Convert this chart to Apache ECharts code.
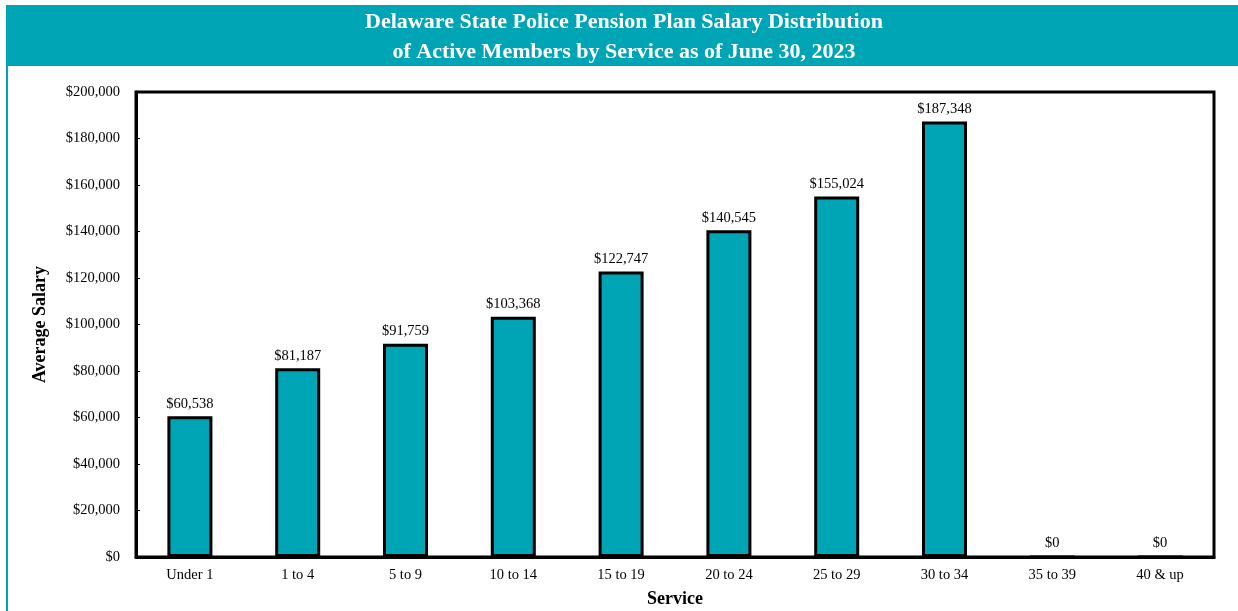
<!DOCTYPE html>
<html>
<head>
<meta charset="utf-8">
<script src="https://cdn.jsdelivr.net/npm/echarts@6/dist/echarts.min.js"></script>
<style>
  html, body { margin: 0; padding: 0; background: #fff; }
  #main { width: 1238px; height: 611px; }
</style>
</head>
<body>
<div id="main"></div>
<script>
// categories and values
var serviceGroups = ["Under 1", "1 to 4", "5 to 9", "10 to 14", "15 to 19", "20 to 24", "25 to 29", "30 to 34", "35 to 39", "40 & up"];
var avgSalary = [60538, 81187, 91759, 103368, 122747, 140545, 155024, 187348, 0, 0];

var teal = "#00A5B5";
var serif = "'Liberation Serif', 'DejaVu Serif', serif";

function money(v){
    return "$" + Number(v).toLocaleString("en-US");
}

var myChart = echarts.init(document.getElementById("main"));

var option = {
    animation : false,
    textStyle : { fontFamily : serif },

    graphic : [
        // banner
        { type : "rect", left : 6, top : 5, shape : { width : 1232, height : 61 }, style : { fill : teal }, z : 0 },
        // left frame
        { type : "rect", left : 6, top : 66, shape : { width : 2, height : 545 }, style : { fill : teal }, z : 0 },
        {
            type : "text", x : 624, y : 11,
            style : { text : "Delaware State Police Pension Plan Salary Distribution", fill : "#fff", font : "bold 22px " + serif, align : "center" },
            z : 2
        },
        {
            type : "text", x : 624, y : 41,
            style : { text : "of Active Members by Service as of June 30, 2023", fill : "#fff", font : "bold 22px " + serif, align : "center" },
            z : 2
        }
    ],

    grid : {
        left : 136, right : 24, top : 92, bottom : 54,
        outerBoundsMode : "none",
        containLabel : false,
        show : true, borderColor : "#000", borderWidth : 3
    },

    xAxis : {
        type : "category",
        data : serviceGroups,
        name : "Service",
        nameLocation : "middle",
        nameGap : 33,
        nameTextStyle : { fontWeight : "bold", fontSize : 18, color : "#000", fontFamily : serif },
        axisLine : { lineStyle : { color : "#000", width : 3 } },
        axisTick : { show : false },
        axisLabel : { color : "#000", fontSize : 14.5, margin : 11, fontFamily : serif }
    },

    yAxis : {
        type : "value",
        min : 0, max : 200000, interval : 20000,
        name : "Average Salary",
        nameLocation : "middle",
        nameGap : 87,
        nameTextStyle : { fontWeight : "bold", fontSize : 18, color : "#000", fontFamily : serif },
        axisLine : { show : true, lineStyle : { color : "#000", width : 3 } },
        axisTick : { show : true, inside : true, length : 4, lineStyle : { color : "#000", width : 1 } },
        splitLine : { show : false },
        axisLabel : { color : "#000", fontSize : 14.5, margin : 16, fontFamily : serif, formatter : money }
    },

    series : [
        {
            type : "bar",
            data : avgSalary,
            barWidth : 45,
            itemStyle : { color : teal, borderColor : "#000", borderWidth : 3 },
            label : {
                show : true,
                position : "top",
                distance : 5,
                color : "#000",
                fontSize : 14.5,
                fontFamily : serif,
                formatter : function(p){ return money(p.value); }
            }
        }
    ]
};

myChart.setOption(option);
</script>
</body>
</html>
